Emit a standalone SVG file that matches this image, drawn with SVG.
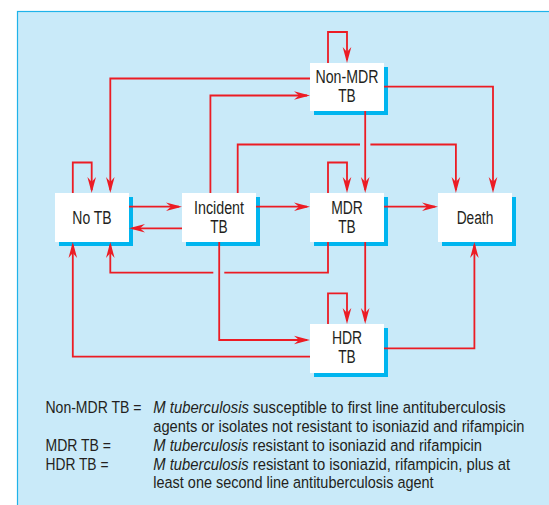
<svg xmlns="http://www.w3.org/2000/svg" width="549" height="505" viewBox="0 0 549 505">
<style>
.bg{fill:#c9eaf9;stroke:#1fb3ea;stroke-width:1.2}
.box{fill:#ffffff}
.sh{fill:#00b5ef}
.lbl{font-family:"Liberation Sans Narrow","Liberation Sans",Arial,sans-serif;font-stretch:condensed;font-size:18px;fill:#231f20;text-anchor:middle}
.leg{font-family:"Liberation Sans",Arial,sans-serif;font-size:16.5px;fill:#231f20}
.it{font-style:italic}
.ln{fill:none;stroke:#ec1c24;stroke-width:1.8;stroke-linejoin:miter}
.arr{fill:none;stroke:#ec1c24;stroke-width:1.8;marker-end:url(#ah)}
</style>
<defs>
<marker id="ah" markerUnits="userSpaceOnUse" viewBox="-14 -5 18 10" refX="0" refY="0" markerWidth="18" markerHeight="10" orient="auto">
<path d="M3,0 L-13,-4.3 L-8,0 L-13,4.3 Z" fill="#ec1c24"/>
</marker>
</defs>
<rect class="bg" x="17.5" y="11.5" width="545" height="510"/>

<g id="node-nonmdr">
<rect class="sh" x="314" y="67" width="74" height="48"/>
<rect class="box" x="310" y="63" width="74" height="48"/>
<text class="lbl" x="347" y="83" textLength="63" lengthAdjust="spacingAndGlyphs">Non-MDR</text>
<text class="lbl" x="347" y="102" textLength="17.5" lengthAdjust="spacingAndGlyphs">TB</text>
</g>
<g id="node-notb">
<rect class="sh" x="59" y="197" width="74" height="49"/>
<rect class="box" x="55" y="193" width="74" height="49"/>
<text class="lbl" x="92" y="224" textLength="39.3" lengthAdjust="spacingAndGlyphs">No TB</text>
</g>
<g id="node-incident">
<rect class="sh" x="186" y="197" width="74" height="49"/>
<rect class="box" x="182" y="193" width="74" height="49"/>
<text class="lbl" x="219" y="213.8" textLength="50" lengthAdjust="spacingAndGlyphs">Incident</text>
<text class="lbl" x="219" y="233" textLength="17.5" lengthAdjust="spacingAndGlyphs">TB</text>
</g>
<g id="node-mdr">
<rect class="sh" x="314" y="197" width="74" height="49"/>
<rect class="box" x="310" y="193" width="74" height="49"/>
<text class="lbl" x="347" y="213.8" textLength="31.7" lengthAdjust="spacingAndGlyphs">MDR</text>
<text class="lbl" x="347" y="233" textLength="17.5" lengthAdjust="spacingAndGlyphs">TB</text>
</g>
<g id="node-death">
<rect class="sh" x="442" y="197" width="74" height="49"/>
<rect class="box" x="438" y="193" width="74" height="49"/>
<text class="lbl" x="475" y="224" textLength="36.7" lengthAdjust="spacingAndGlyphs">Death</text>
</g>
<g id="node-hdr">
<rect class="sh" x="314" y="328" width="74" height="49"/>
<rect class="box" x="310" y="324" width="74" height="49"/>
<text class="lbl" x="347" y="344" textLength="30.2" lengthAdjust="spacingAndGlyphs">HDR</text>
<text class="lbl" x="347" y="363" textLength="17.5" lengthAdjust="spacingAndGlyphs">TB</text>
</g>

<g id="connectors">
<path class="arr" d="M328,63 V32 H347 V60"/>
<path class="arr" d="M310,78.5 H110.3 V190"/>
<path class="arr" d="M210.4,193 V95.5 H307"/>
<path class="arr" d="M384,86.7 H493 V190"/>
<path class="arr" d="M365.2,111 V190"/>
<path class="ln" d="M237.7,193 V144.5 H360"/>
<path class="arr" d="M370.4,144.5 H455.9 V190"/>
<path class="arr" d="M72.8,193 V162.5 H91.7 V190"/>
<path class="arr" d="M328,193 V162.5 H347 V190"/>
<path class="arr" d="M129,206.7 H179"/>
<path class="arr" d="M182,228.3 H132"/>
<path class="arr" d="M256,206.7 H307"/>
<path class="arr" d="M384,206.7 H435"/>
<path class="ln" d="M328,242 V272.7 H224.3"/>
<path class="arr" d="M213.3,272.7 H110.3 V245"/>
<path class="arr" d="M219.2,242 V340 H307"/>
<path class="arr" d="M365.2,242 V321"/>
<path class="arr" d="M328,324 V293.3 H347 V321"/>
<path class="arr" d="M310,356.7 H72.8 V245"/>
<path class="arr" d="M384,348.3 H474.4 V245"/>
</g>

<g id="legend" transform="scale(0.85,1)">
<text class="leg" x="53.5" y="413" textLength="112.9" lengthAdjust="spacingAndGlyphs">Non-MDR TB =</text>
<text class="leg" x="180.4" y="413" textLength="414.6" lengthAdjust="spacingAndGlyphs"><tspan class="it">M tuberculosis</tspan> susceptible to first line antituberculosis</text>
<text class="leg" x="180.4" y="431.8" textLength="436.5" lengthAdjust="spacingAndGlyphs">agents or isolates not resistant to isoniazid and rifampicin</text>
<text class="leg" x="53.5" y="451" textLength="77.1" lengthAdjust="spacingAndGlyphs">MDR TB =</text>
<text class="leg" x="180.4" y="451" textLength="386.7" lengthAdjust="spacingAndGlyphs"><tspan class="it">M tuberculosis</tspan> resistant to isoniazid and rifampicin</text>
<text class="leg" x="53.5" y="469.6" textLength="74.1" lengthAdjust="spacingAndGlyphs">HDR TB =</text>
<text class="leg" x="180.4" y="469.6" textLength="419.7" lengthAdjust="spacingAndGlyphs"><tspan class="it">M tuberculosis</tspan> resistant to isoniazid, rifampicin, plus at</text>
<text class="leg" x="180.4" y="488.3" textLength="329.7" lengthAdjust="spacingAndGlyphs">least one second line antituberculosis agent</text>
</g>
</svg>
